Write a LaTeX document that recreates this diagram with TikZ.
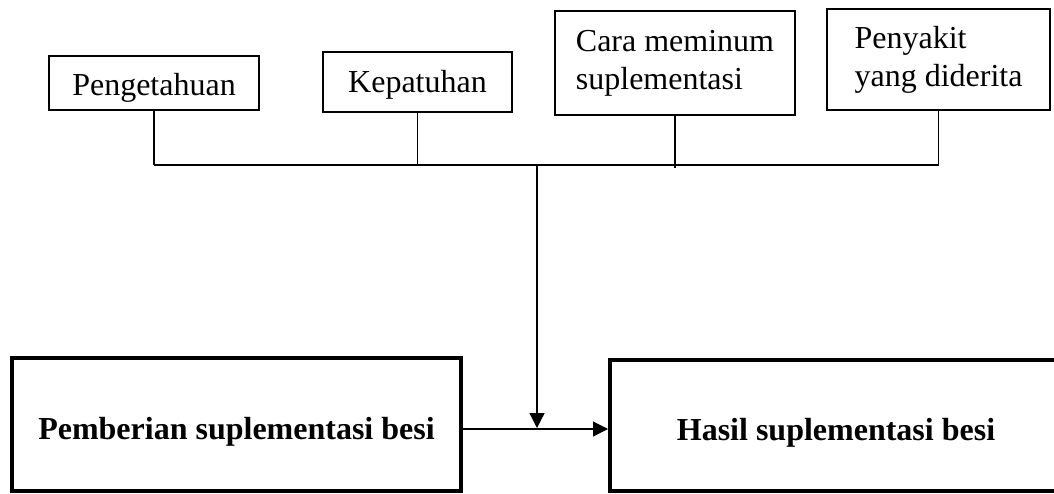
\documentclass[tikz,border=0pt]{standalone}
\usepackage{fontspec}
\setmainfont{Liberation Serif}
\usetikzlibrary{arrows.meta}
\newcommand{\dropby}[2]{\raisebox{-#1}[0pt][0pt]{#2}}
\begin{document}
\begin{tikzpicture}[x=0.5pt,y=-0.5pt,
  smallbox/.style={draw,line width=0.6pt,inner sep=0pt,align=left,
    font=\fontsize{16}{19}\selectfont},
  bigbox/.style={draw,line width=2pt,inner sep=0pt,
    font=\fontsize{16}{19}\selectfont\bfseries},
  conn/.style={line width=0.6pt},
  arr/.style={line width=0.6pt,-{Triangle[length=7.5pt,width=7.5pt]}}]
\useasboundingbox (0,0) rectangle (1054,493);
\clip (0,0) rectangle (1054,493);
\node[smallbox,minimum width=105pt,minimum height=27pt] (b1) at (154,83) {\dropby{6pt}{Pengetahuan}};
\node[smallbox,minimum width=94.5pt,minimum height=30pt] (b2) at (417.5,82) {\dropby{5pt}{Kepatuhan}};
\node[smallbox,minimum width=120pt,minimum height=52pt] (b3) at (675,63) {Cara meminum\\suplementasi};
\node[smallbox,minimum width=111.5pt,minimum height=50.5pt] (b4) at (938.5,59.5) {Penyakit\\yang diderita};
\node[bigbox,minimum width=224.5pt,minimum height=66.5pt] (L) at (236.5,424.5) {\dropby{7.5pt}{Pemberian suplementasi besi}};
\node[bigbox,minimum width=226pt,minimum height=65.5pt] (R) at (836,425.5) {\dropby{7.25pt}{Hasil suplementasi besi}};
\coordinate (bar) at (0,165);
\coordinate (jn) at (537,165);
\coordinate (tip) at (537,428);
\coordinate (hy) at (0,429);
\draw[conn] (b1.south) -- (b1.south |- bar);
\draw[conn] (b2.south) -- (b2.south |- bar);
\draw[conn] (b3.south) -- (b3.south |- 0,168);
\draw[conn] (b4.south) -- (b4.south |- bar);
\draw[conn] (b1.south |- bar) -- (b4.south |- bar);
\draw[arr] (jn) -- (tip);
\draw[arr] (L.east |- hy) -- (R.west |- hy);
\end{tikzpicture}
\end{document}
